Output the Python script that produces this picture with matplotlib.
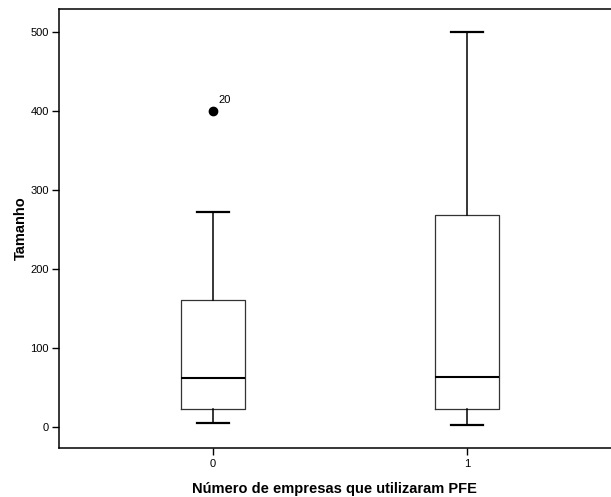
import matplotlib
matplotlib.use("Agg")
import matplotlib.pyplot as plt

categories = ["0", "1"]
whislo = [6, 3]
q1 = [23, 23.5]
med = [62, 64]
q3 = [161, 269]
whishi = [272, 500]
fliers = [[400], []]
flier_labels = [["20"], []]
yticks = [0, 100, 200, 300, 400, 500]

plt.rcParams['font.family'] = ['Liberation Sans', 'DejaVu Sans']

fig = plt.figure(figsize=(6.11, 4.97), dpi=100)
W, H = 611, 497
left, right, top, bottom = 58.5, 611, 9, 448
ax = fig.add_axes([left / W, 1 - bottom / H, (right - left) / W, (bottom - top) / H])

stats = []
for i in range(len(categories)):
    stats.append(dict(med=med[i], q1=q1[i], q3=q3[i], whislo=whislo[i],
                      whishi=whishi[i], fliers=fliers[i], label=categories[i]))

positions = list(range(len(categories)))
ax.bxp(stats, positions=positions, widths=0.25, showfliers=True,
       boxprops=dict(color='#333333', linewidth=0.9),
       medianprops=dict(color='black', linewidth=1.5),
       whiskerprops=dict(color='black', linewidth=1.1),
       capprops=dict(color='black', linewidth=1.6),
       capwidths=0.125,
       flierprops=dict(marker='o', markerfacecolor='black', markeredgecolor='black',
                       markersize=6))

for i, (fl, lb) in enumerate(zip(fliers, flier_labels)):
    for v, t in zip(fl, lb):
        ax.annotate(t, (positions[i], v), xytext=(4, 6), textcoords='offset points',
                    fontsize=8)

ax.set_xlim(-0.608, 1.567)
ax.set_ylim(-26.2, 529.5)
ax.set_yticks(yticks)
ax.set_yticklabels([str(v) for v in yticks])
ax.set_xticks(positions)
ax.set_xticklabels(categories)
ax.tick_params(axis='both', direction='out', length=5, width=1, labelsize=8, pad=2)
ax.tick_params(axis='x', pad=3)
ax.spines['right'].set_visible(False)
for s in ['left', 'top', 'bottom']:
    ax.spines[s].set_linewidth(1.1)

ax.set_xlabel("Número de empresas que utilizaram PFE", fontsize=10.5, fontweight='bold', labelpad=9)
ax.set_ylabel("Tamanho", fontsize=10.5, fontweight='bold', labelpad=2)

fig.savefig("out.png", dpi=100)
